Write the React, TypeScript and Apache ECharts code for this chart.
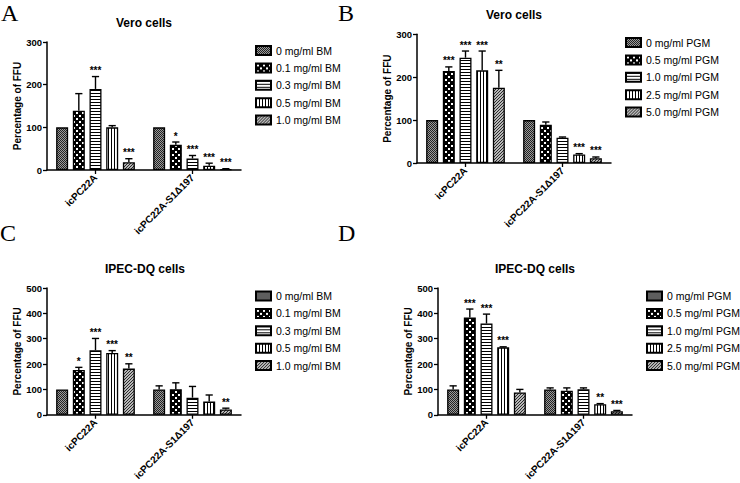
import React, { useEffect, useRef } from "react";
import * as echarts from "echarts";

// ---------------- data ----------------
const categories = ["icPC22A", "icPC22A-S1Δ197"];

const bmDoses = ["0 mg/ml BM", "0.1 mg/ml BM", "0.3 mg/ml BM", "0.5 mg/ml BM", "1.0 mg/ml BM"];
const pgmDoses = ["0 mg/ml PGM", "0.5 mg/ml PGM", "1.0 mg/ml PGM", "2.5 mg/ml PGM", "5.0 mg/ml PGM"];

// Panel A: Vero cells, BM (per dose: [icPC22A, icPC22A-S1Δ197])
const aValues = [[100, 100], [139, 59], [190, 27], [100, 10], [18, 1.5]];
const aErrors = [[null, null], [179, 65.6], [219, 34], [104, 16], [26.5, 3]];
const aStars = [["", ""], ["", "*"], ["***", "***"], ["", "***"], ["***", "***"]];

// Panel B: Vero cells, PGM
const bValues = [[100, 100], [214.5, 89], [245.5, 59], [216, 20], [175.6, 11]];
const bErrors = [[null, null], [224, 95.6], [261, 60.6], [261, 21.8], [216, 14]];
const bStars = [["", ""], ["***", ""], ["***", ""], ["***", "***"], ["**", "***"]];

// Panel C: IPEC-DQ cells, BM
const cValues = [[100, 100], [176.6, 101], [254.5, 67.5], [244, 52], [182, 21]];
const cErrors = [[null, 114], [187, 126], [301, 111.7], [253, 78], [201, 26]];
const cStars = [["", ""], ["*", ""], ["***", ""], ["***", ""], ["**", "**"]];

// Panel D: IPEC-DQ cells, PGM
const dValues = [[100, 100], [384, 95], [360, 101], [266, 41.5], [88, 14]];
const dErrors = [[114, 106], [417, 106], [397, 106], [268, 44], [100, 17]];
const dStars = [["", ""], ["***", ""], ["***", ""], ["***", "**"], ["", "***"]];

const titles = ["Vero cells", "Vero cells", "IPEC-DQ cells", "IPEC-DQ cells"];
const panelLetters = ["A", "B", "C", "D"];
const yMaxes = [300, 300, 500, 500];
const yInterval = 100;
const yAxisName = "Percentage of FFU";

// ---------------- layout ----------------
const FONT = "'Liberation Sans', Arial, Helvetica, sans-serif";
const BW = 12;
const GAP = 39;

const grids = [
  { left: 47, top: 42, width: 194, height: 128 },
  { left: 417, top: 34.3, width: 194, height: 128.7 },
  { left: 47, top: 288, width: 194, height: 128 },
  { left: 438, top: 288, width: 194, height: 128 },
];
const legendPos = [
  { left: 255, top: 45 },
  { left: 625, top: 37 },
  { left: 255, top: 290.5 },
  { left: 646, top: 290.5 },
];
const titlePos = [
  [144, 22.7],
  [514, 15],
  [145, 269.3],
  [535, 269.3],
];
const letterPos = [
  [1, 13],
  [338, 13],
  [0, 232.5],
  [338, 232.5],
];

function makePattern(kind: number) {
  const c = document.createElement("canvas");
  let w = 4;
  let h = 4;
  if (kind === 0) { w = 2; h = 2; }
  if (kind === 1) { w = 6; h = 6; }
  if (kind === 2) { w = 3; h = 3; }
  if (kind === 3) { w = 3; h = 3; }
  if (kind === 4) { w = 3; h = 3; }
  c.width = w;
  c.height = h;
  const ctx = c.getContext("2d")!;
  if (kind === 0) {
    ctx.fillStyle = "#9a9a9a";
    ctx.fillRect(0, 0, 2, 2);
    ctx.fillStyle = "#222";
    ctx.fillRect(0, 0, 1, 1);
    ctx.fillRect(1, 1, 1, 1);
  } else if (kind === 1) {
    ctx.fillStyle = "#000";
    ctx.fillRect(0, 0, 6, 6);
    ctx.fillStyle = "#fff";
    ctx.fillRect(1, 1, 2, 2);
    ctx.fillRect(4, 4, 2, 2);
  } else if (kind === 2) {
    ctx.fillStyle = "#fff";
    ctx.fillRect(0, 0, 3, 3);
    ctx.fillStyle = "#000";
    ctx.fillRect(0, 0, 3, 1);
  } else if (kind === 3) {
    ctx.fillStyle = "#fff";
    ctx.fillRect(0, 0, 3, 3);
    ctx.fillStyle = "#000";
    ctx.fillRect(0, 0, 1, 3);
  } else {
    ctx.fillStyle = "#b8b8b8";
    ctx.fillRect(0, 0, 3, 3);
    ctx.fillStyle = "#2a2a2a";
    ctx.fillRect(0, 2, 1, 1);
    ctx.fillRect(1, 1, 1, 1);
    ctx.fillRect(2, 0, 1, 1);
  }
  return { image: c, repeat: "repeat", imageWidth: w, imageHeight: h };
}

function buildPanel(
  idx: number,
  names: string[],
  values: number[][],
  errors: (number | null)[][],
  stars: string[][],
  patterns: any[]
) {
  const series: any[] = [];
  names.forEach((name, i) => {
    series.push({
      type: "bar",
      name,
      xAxisIndex: idx,
      yAxisIndex: idx,
      data: values[i],
      barWidth: BW,
      barGap: GAP + "%",
      itemStyle: { color: patterns[i], borderColor: "#000", borderWidth: 1.3 },
      emphasis: { disabled: true },
      silent: true,
    });
  });
  const step = BW * (1 + GAP / 100);
  const total = names.length * BW + (names.length - 1) * BW * (GAP / 100);
  names.forEach((_n, i) => {
    const data: any[] = [];
    const labels: string[] = [];
    values[i].forEach((v, ci) => {
      const e = errors[i][ci];
      const s = stars[i][ci];
      if (e == null && !s) return;
      data.push([ci, v, e == null ? v : e, e == null ? 0 : 1]);
      labels.push(s);
    });
    const off = -total / 2 + BW / 2 + i * step;
    series.push({
      type: "custom",
      xAxisIndex: idx,
      yAxisIndex: idx,
      z: 5,
      silent: true,
      itemStyle: { color: "#000" },
      data,
      renderItem: (params: any, api: any) => {
        const ci = api.value(0);
        const v = api.value(1);
        const e = api.value(2);
        const hasErr = api.value(3) === 1;
        const p0 = api.coord([ci, v]);
        const p1 = api.coord([ci, e]);
        const x = p0[0] + off;
        const children: any[] = [];
        if (hasErr) {
          children.push({
            type: "line",
            shape: { x1: x, y1: p0[1], x2: x, y2: p1[1] },
            style: { stroke: "#000", lineWidth: 1.4 },
          });
          children.push({
            type: "line",
            shape: { x1: x - 3.6, y1: p1[1], x2: x + 3.6, y2: p1[1] },
            style: { stroke: "#000", lineWidth: 1.4 },
          });
        }
        const s = labels[params.dataIndex];
        if (s) {
          children.push({
            type: "text",
            x,
            y: p1[1] - 1,
            style: {
              text: s,
              fill: "#000",
              font: "bold 10px " + FONT,
              align: "center",
              verticalAlign: "bottom",
            },
          });
        }
        return { type: "group", children };
      },
    });
  });
  return series;
}

export default function App() {
  const ref = useRef<HTMLDivElement>(null);
  useEffect(() => {
    if (!ref.current) return;
    const chart = echarts.init(ref.current, null, { renderer: "svg" });
    const patterns = [0, 1, 2, 3, 4].map(makePattern);

    const series = [
      ...buildPanel(0, bmDoses, aValues, aErrors, aStars, patterns),
      ...buildPanel(1, pgmDoses, bValues, bErrors, bStars, patterns),
      ...buildPanel(2, bmDoses, cValues, cErrors, cStars, patterns),
      ...buildPanel(3, pgmDoses, dValues, dErrors, dStars, patterns),
    ];

    const axisLine = { show: true, lineStyle: { color: "#000", width: 1.5 } };

    const xAxis = grids.map((_g, i) => ({
      type: "category",
      gridIndex: i,
      data: categories,
      axisLine,
      axisTick: { show: true, alignWithLabel: true, length: 4, lineStyle: { color: "#000", width: 1.3 } },
      axisLabel: {
        interval: 0,
        rotate: 45,
        margin: 6,
        color: "#000",
        fontFamily: FONT,
        fontSize: 10,
        fontWeight: "bold",
      },
      splitLine: { show: false },
    }));

    const yAxis = grids.map((_g, i) => ({
      type: "value",
      gridIndex: i,
      min: 0,
      max: yMaxes[i],
      interval: yInterval,
      name: yAxisName,
      nameLocation: "middle",
      nameGap: 25,
      nameTextStyle: { color: "#000", fontFamily: FONT, fontSize: 10, fontWeight: "bold" },
      axisLine,
      axisTick: { show: true, length: 4, lineStyle: { color: "#000", width: 1.3 } },
      axisLabel: { margin: 5, color: "#000", fontFamily: FONT, fontSize: 9.5, fontWeight: "bold" },
      splitLine: { show: false },
    }));

    const legend = legendPos.map((p, i) => ({
      left: p.left,
      top: p.top,
      padding: 0,
      orient: "vertical",
      data: i % 2 === 0 ? bmDoses : pgmDoses,
      icon: "rect",
      itemWidth: 15,
      itemHeight: 9,
      itemGap: 6.4,
      selectedMode: false,
      textStyle: { color: "#000", fontFamily: FONT, fontSize: 10.5 },
    }));

    const graphic: any[] = [];
    titles.forEach((t, i) => {
      graphic.push({
        type: "text",
        x: titlePos[i][0],
        y: titlePos[i][1],
        style: {
          text: t,
          fill: "#000",
          font: "bold 12px " + FONT,
          align: "center",
          verticalAlign: "middle",
        },
      });
    });
    panelLetters.forEach((l, i) => {
      graphic.push({
        type: "text",
        x: letterPos[i][0],
        y: letterPos[i][1],
        style: {
          text: l,
          fill: "#000",
          font: "24px 'Liberation Serif', 'Times New Roman', serif",
          align: "left",
          verticalAlign: "middle",
        },
      });
    });

    chart.setOption({
      animation: false,
      backgroundColor: "#fff",
      grid: grids.map((g) => ({ ...g, containLabel: false })),
      xAxis,
      yAxis,
      legend,
      graphic,
      series,
    });
    return () => chart.dispose();
  }, []);
  return (
    <div
      ref={ref}
      style={{ position: "absolute", left: 0, top: 0, width: 740, height: 483, background: "#fff" }}
    />
  );
}
